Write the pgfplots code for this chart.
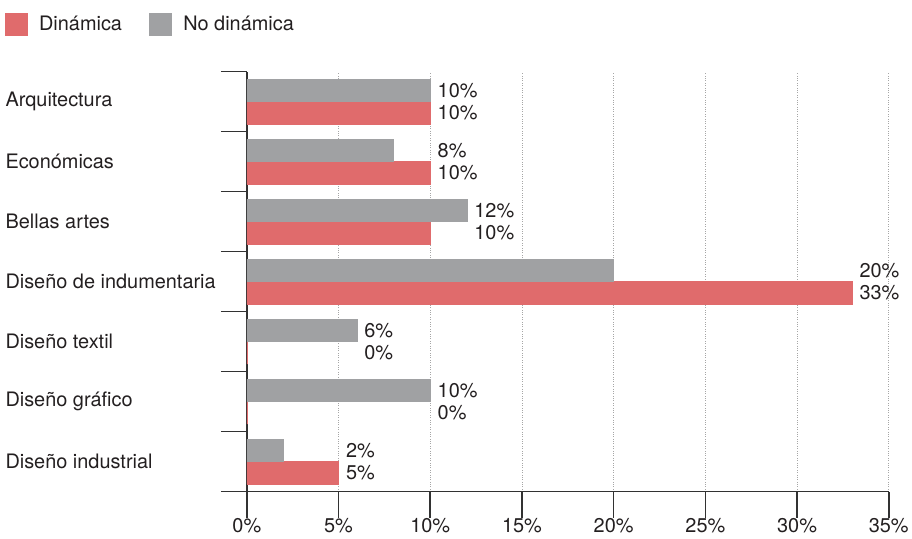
\documentclass[border=0pt]{standalone}
\usepackage{pgfplots}
\pgfplotsset{compat=1.18}
\usepackage{fontspec}
\setmainfont{TeX Gyre Heros}
\definecolor{dinred}{RGB}{224,107,108}
\definecolor{nogray}{RGB}{160,161,163}
\definecolor{txt}{RGB}{35,31,32}
\definecolor{axc}{RGB}{50,50,50}
\begin{document}
\begin{tikzpicture}[font=\fontsize{20}{23}\selectfont, text=txt]
\begin{axis}[
  scale only axis, width=645pt, height=422pt,
  xmin=0, xmax=35, ymin=-0.5, ymax=6.5,
  axis x line*=bottom, axis y line*=left,
  axis line style={-, line width=1.5pt, color=axc},
  xtick={0,5,...,35},
  xticklabels={},
  xmajorgrids,
  ytick={-0.5,0.5,...,6.5},
  yticklabels={},
  extra y ticks={0,...,6},
  extra y tick labels={Diseño industrial, Diseño gráfico, Diseño textil, Diseño de indumentaria, Bellas artes, Económicas, Arquitectura},
  extra y tick style={major tick length=0pt, grid=none, tick style={draw=none},
    yticklabel style={anchor=west, xshift=-246pt}},
  tick align=outside,
  major tick length=26pt,
  tick style={line width=1.5pt, color=axc},
  grid style={dotted, line width=0.6pt, color=black!35},
  legend style={draw=none, fill=none, at={(axis description cs:-0.382,1.145)}, anchor=north west,
    legend columns=2, /tikz/every even column/.append style={column sep=26pt},
    nodes={inner sep=1pt, text=txt}},
  legend cell align=left,
  legend image code/.code={\fill[#1] (0pt,-11pt) rectangle (22pt,11pt);\path (33pt,0pt);},
  clip=false,
]
\addplot[xbar, bar width=0.373, bar shift=-0.1865, fill=dinred, draw=dinred, line width=0.5pt]
  coordinates {(10,6) (10,5) (10,4) (33,3) (0,2) (0,1) (5,0)};
\addlegendentry{Dinámica}
\addplot[xbar, bar width=0.373, bar shift=0.1865, fill=nogray, draw=nogray, line width=0.5pt]
  coordinates {(10,6) (8,5) (12,4) (20,3) (6,2) (10,1) (2,0)};
\addlegendentry{No dinámica}
\addplot[forget plot, only marks, mark=none, nodes near coords, point meta=explicit symbolic,
  nodes near coords align={anchor=west},
  every node near coord/.append style={xshift=4pt, text=txt}]
  coordinates {
    (10,6.1865) [10\%] (10,5.8135) [10\%]
    (10,5.1865) [8\%]  (10,4.8135) [10\%]
    (12,4.1865) [12\%] (12,3.8135) [10\%]
    (33,3.1865) [20\%] (33,2.8135) [33\%]
    (6,2.1865)  [6\%]  (6,1.8135)  [0\%]
    (10,1.1865) [10\%] (10,0.8135) [0\%]
    (5,0.1865)  [2\%]  (5,-0.1865) [5\%]
  };
\path (axis description cs:0,1) ++(0pt,72pt);
\path (axis description cs:0,0) ++(-248pt,-47pt);
\end{axis}
\begin{axis}[
  scale only axis, width=645pt, height=422pt,
  xmin=0, xmax=35, ymin=-0.5, ymax=6.5,
  axis x line*=bottom, hide y axis,
  axis line style={-, line width=1.5pt, color=axc},
  xtick={0,5,...,35},
  xticklabels={0\%,5\%,10\%,15\%,20\%,25\%,30\%,35\%},
  xticklabel style={yshift=-7pt},
  tick align=outside, major tick length=16pt,
  major tick style={draw=axc, line width=1.5pt},
  xtick style={draw=axc, line width=1.5pt},
]
\end{axis}
\end{tikzpicture}
\end{document}
